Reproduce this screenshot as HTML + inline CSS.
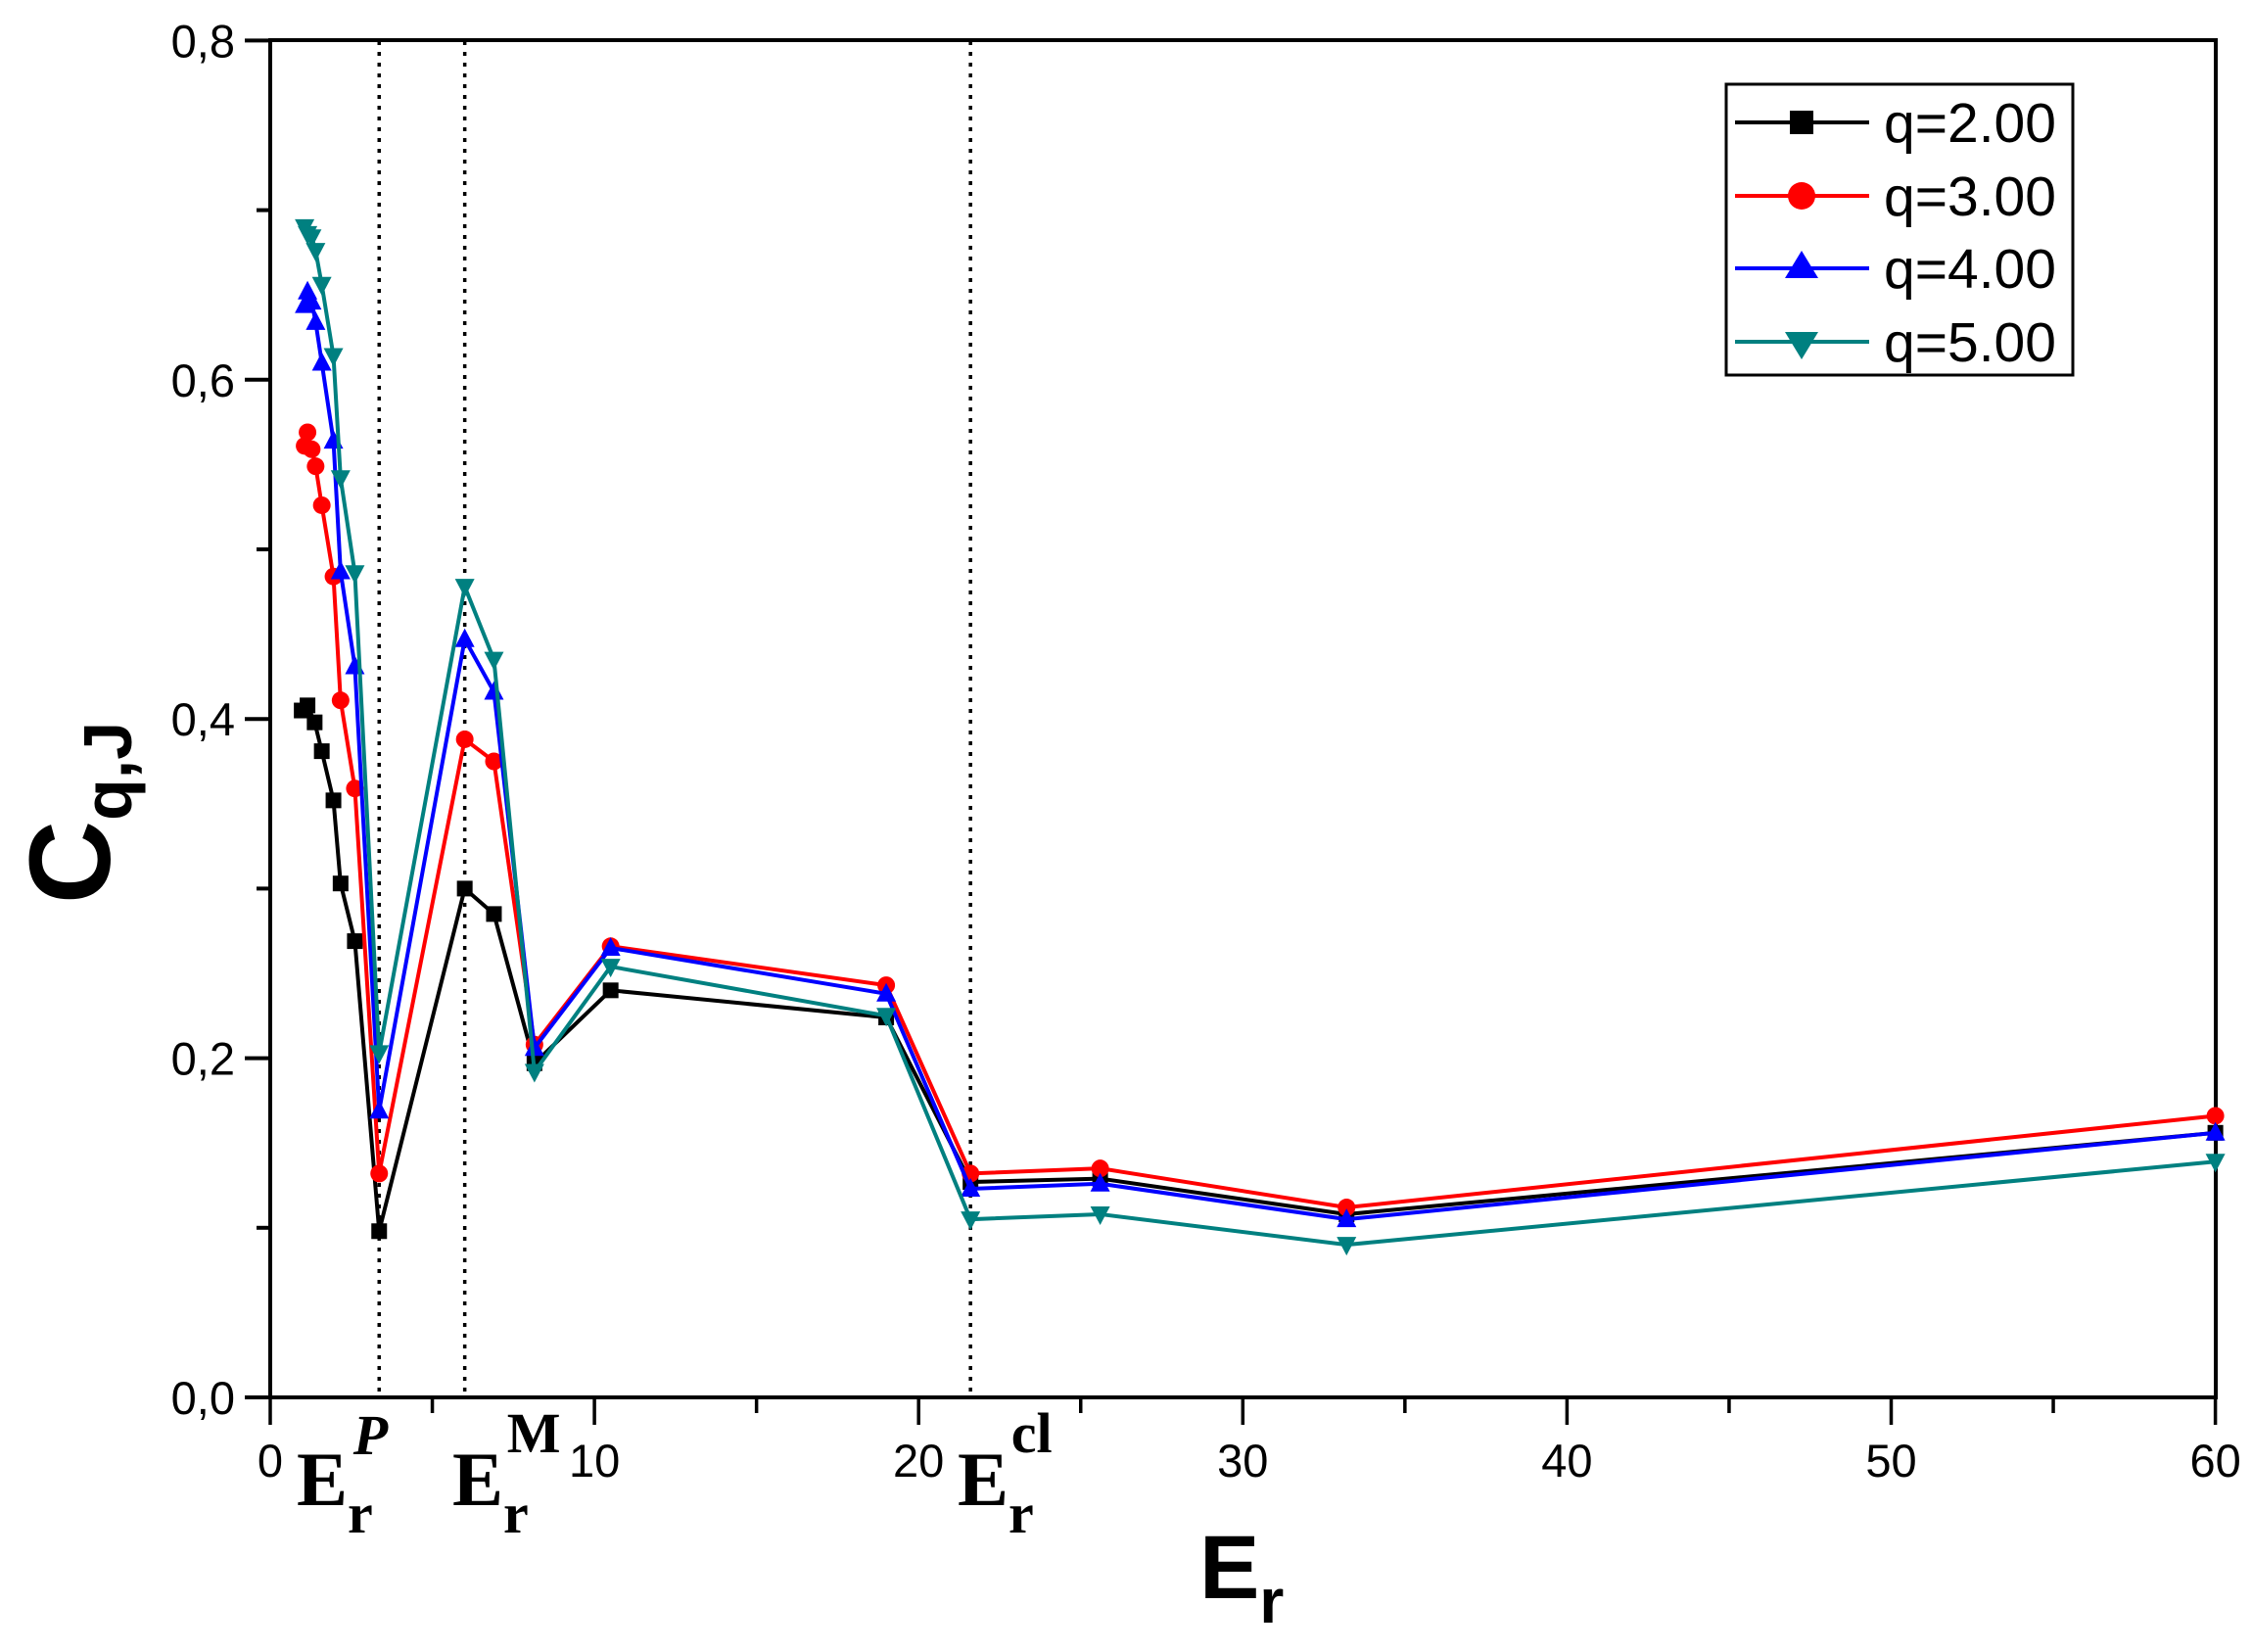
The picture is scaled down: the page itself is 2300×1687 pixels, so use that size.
<!DOCTYPE html>
<html><head><meta charset="utf-8"><style>
html,body{margin:0;padding:0;background:#fff}
svg{display:block}
</style></head><body>
<svg id="s" width="2300" height="1687" xmlns="http://www.w3.org/2000/svg" font-family="Liberation Sans, Arial, sans-serif">
<rect width="2300" height="1687" fill="#fff"/>
<g id="plot"></g>
<rect x="1763" y="86" width="354" height="297" fill="#fff" stroke="#000" stroke-width="3"/>
<g stroke-width="4">
<line x1="1772" y1="125" x2="1909" y2="125" stroke="#000"/>
<rect x="1828" y="113" width="24" height="24" fill="#000"/>
<line x1="1772" y1="200" x2="1909" y2="200" stroke="#f00"/>
<circle cx="1840" cy="200" r="14" fill="#f00"/>
<line x1="1772" y1="274" x2="1909" y2="274" stroke="#00f"/>
<polygon points="1840,256 1857,284 1823,284" fill="#00f"/>
<line x1="1772" y1="349" x2="1909" y2="349" stroke="#008080"/>
<polygon points="1823,339 1857,339 1840,367" fill="#008080"/>
</g>
<g font-size="57" fill="#000">
<text x="1924" y="145">q=2.00</text>
<text x="1924" y="220">q=3.00</text>
<text x="1924" y="294">q=4.00</text>
<text x="1924" y="369">q=5.00</text>
</g>
<g transform="translate(112,830) rotate(-90)">
<text x="0" y="0" font-size="118" font-weight="bold" text-anchor="middle">C<tspan font-size="70" dy="22">q,J</tspan></text>
</g>
<text x="1225" y="1632" font-size="92" font-weight="bold">E<tspan font-size="64" dy="25">r</tspan></text>
<g font-family="Liberation Serif, serif" font-weight="bold" font-size="78">
<text x="303" y="1537">E<tspan font-size="58" dy="28">r</tspan><tspan font-size="58" font-style="italic" dx="-20" dy="-80">P</tspan></text>
<text x="462" y="1537">E<tspan font-size="58" dy="28">r</tspan><tspan font-size="58" dx="-22" dy="-82">M</tspan></text>
<text x="978" y="1537">E<tspan font-size="58" dy="28">r</tspan><tspan font-size="58" dx="-22" dy="-82">cl</tspan></text>
</g>
</svg>
<script>
const NS="http://www.w3.org/2000/svg";
const g=document.getElementById('plot');
const X=x=>276+x*33.11, Y=y=>1427-y*1732;
function el(t,a,p){const e=document.createElementNS(NS,t);for(const k in a)e.setAttribute(k,a[k]);(p||g).appendChild(e);return e;}
[3.36,6.0,21.6].forEach(v=>el('line',{x1:X(v),y1:42,x2:X(v),y2:1427,stroke:'#000','stroke-width':3.5,'stroke-dasharray':'4,7'}));
el('rect',{x:276,y:41,width:1987,height:1386,fill:'none',stroke:'#000','stroke-width':4});
for(let i=0;i<=8;i++){const y=Y(i*0.1);el('line',{x1:i%2?262:250,y1:y,x2:276,y2:y,stroke:'#000','stroke-width':4});
 if(i%2==0){const t=el('text',{x:240,y:y+17,'font-size':47,'text-anchor':'end'});t.textContent=(i/10).toFixed(1).replace('.',',');}}
for(let i=0;i<=12;i++){const x=X(i*5);el('line',{x1:x,y1:1427,x2:x,y2:i%2?1443:1455,stroke:'#000','stroke-width':3.5});
 if(i%2==0){const t=el('text',{x:x,y:1508,'font-size':47,'text-anchor':'middle'});t.textContent=String(i*5);}}
const tail=[3.36,6.0,6.9,8.15,10.5,19.0,21.6,25.6,33.2,60];
const xe=[1.06,1.15,1.28,1.40,1.59,1.95,2.17,2.61];
const XS={black:[0.97,1.15,1.37,1.59,1.95,2.17,2.61].concat(tail),red:xe.concat(tail),blue:xe.concat(tail),teal:xe.concat(tail)};
const S={
 black:[0.405,0.408,0.398,0.381,0.352,0.303,0.269,0.098,0.300,0.285,0.197,0.240,0.224,0.127,0.129,0.108,0.156],
 red:[0.561,0.569,0.559,0.549,0.526,0.484,0.411,0.359,0.132,0.388,0.375,0.208,0.266,0.243,0.132,0.135,0.112,0.166],
 blue:[0.644,0.652,0.646,0.634,0.610,0.564,0.487,0.431,0.169,0.447,0.416,0.206,0.265,0.238,0.123,0.126,0.105,0.156],
 teal:[0.690,0.686,0.684,0.676,0.656,0.614,0.542,0.486,0.203,0.478,0.435,0.192,0.254,0.225,0.105,0.108,0.090,0.139]};
const cols={black:'#000',red:'#f00',blue:'#00f',teal:'#008080'};
for(const k in S){const pts=S[k].map((v,i)=>[X(XS[k][i]),Y(v)]);
 el('polyline',{points:pts.map(p=>p.join(',')).join(' '),fill:'none',stroke:cols[k],'stroke-width':4});
 pts.forEach(([x,y])=>{
  if(k=='black')el('rect',{x:x-8,y:y-8,width:16,height:16,fill:cols[k]});
  else if(k=='red')el('circle',{cx:x,cy:y,r:9,fill:cols[k]});
  else if(k=='blue')el('polygon',{points:`${x},${y-11} ${x+10},${y+8} ${x-10},${y+8}`,fill:cols[k]});
  else el('polygon',{points:`${x-10},${y-8} ${x+10},${y-8} ${x},${y+11}`,fill:cols[k]});
 });}
</script>
</body></html>
